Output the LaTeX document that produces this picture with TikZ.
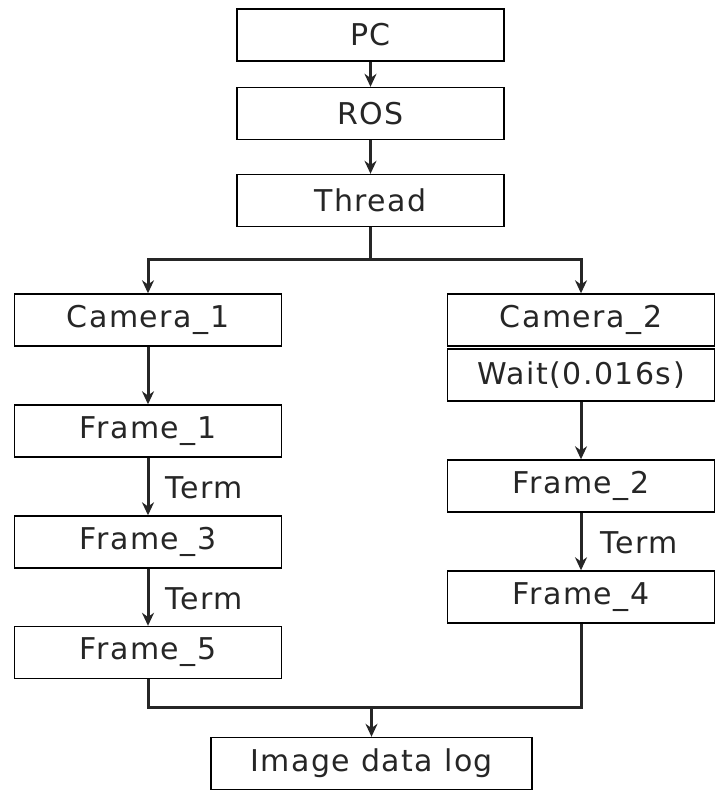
\documentclass[tikz,border=0pt]{standalone}
\usepackage{fontspec}
\setmainfont{DejaVu Sans}[LetterSpace=5]
\usetikzlibrary{arrows.meta,positioning,calc}

\begin{document}
\begin{tikzpicture}[x=1pt,y=-1pt,>={Stealth[length=13pt,width=12pt]},font=\fontsize{30}{36}\selectfont]
\tikzstyle{blk}=[draw,line width=1.4pt,minimum width=267pt,minimum height=52pt,inner sep=0pt,text=black!85]
\tikzstyle{con}=[line width=3pt,black!85]
\useasboundingbox (0,0) rectangle (720,799);
% top chain
\foreach \n/\t/\y in {pc/PC/35,ros/ROS/113.5,thread/Thread/200.5} \node[blk] (\n) at (370.5,\y) {\t};
% left branch
\foreach \n/\t/\y in {cam1/Camera\_1/320,fr1/Frame\_1/431,fr3/Frame\_3/542,fr5/Frame\_5/652.5} \node[blk] (\n) at (148,\y) {\t};
% right branch
\foreach \n/\t/\y in {cam2/Camera\_2/320,wait/Wait(0.016s)/375,fr2/Frame\_2/486,fr4/Frame\_4/597} \node[blk] (\n) at (581,\y) {\t};
\node[blk,minimum width=321pt] (log) at (371.5,763.5) {Image data log};
% connectors
\draw[con,->] (pc) -- (ros);
\draw[con,->] (ros) -- (thread);
\coordinate (sp) at (370.5,260);
\draw[con] (thread.south) -- (sp);
\draw[con,->] (sp) -| (cam1.north);
\draw[con,->] (sp) -| (cam2.north);
\draw[con,->] (cam1) -- (fr1);
\draw[con,->] (fr1) -- (fr3);
\draw[con,->] (fr3) -- (fr5);
\draw[con,->] (wait) -- (fr2);
\draw[con,->] (fr2) -- (fr4);
\coordinate (mj) at (371.5,707);
\draw[con] (fr5.south) |- (mj) -| (fr4.south);
\draw[con,->] (mj) -- (log.north);
% Term labels
\node[anchor=west,text=black!85] (t13) at (162,488) {Term};
\node[anchor=west,text=black!85] (t35) at (162,599) {Term};
\node[anchor=west,text=black!85] (t24) at (597,543) {Term};
\end{tikzpicture}
\end{document}
